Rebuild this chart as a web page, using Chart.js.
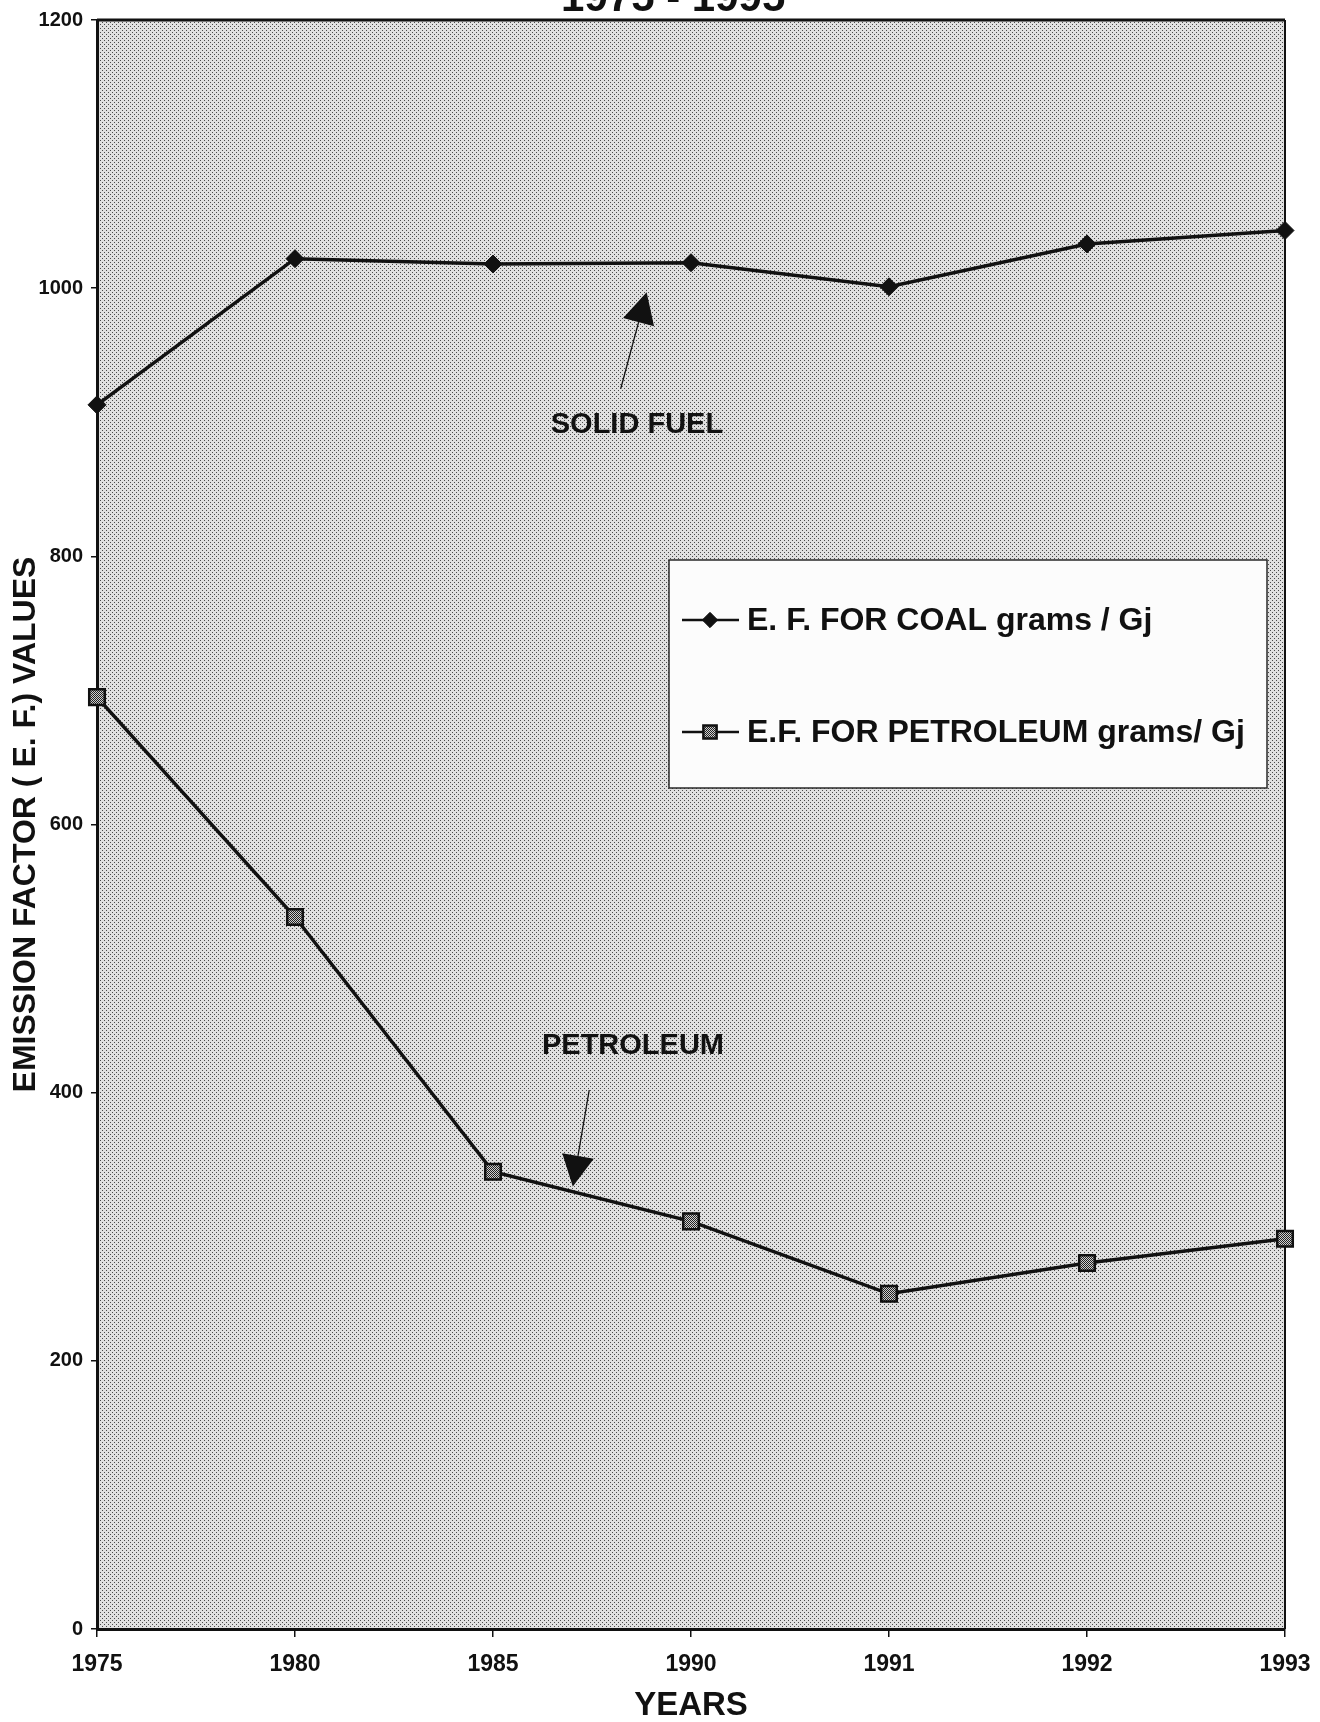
<!DOCTYPE html>
<html>
<head>
<meta charset="utf-8">
<title>Emission factor values 1975 - 1995</title>
<script src="https://cdn.jsdelivr.net/npm/chart.js@4.4.1/dist/chart.umd.min.js"></script>
<style>
  html, body { margin: 0; padding: 0; background: #ffffff; }
  canvas { display: block; }
</style>
</head>
<body>
<canvas id="efChart" width="1320" height="1722"></canvas>
<script>
// ---- data -------------------------------------------------------------
const years = ['1975', '1980', '1985', '1990', '1991', '1992', '1993'];
const coalEF = [913, 1022, 1018, 1019, 1001, 1033, 1043];
const petroleumEF = [695, 531, 341, 304, 250, 273, 291];
const yTickValues = [0, 200, 400, 600, 800, 1000, 1200];
const seriesNames = ['E. F. FOR COAL grams / Gj', 'E.F. FOR PETROLEUM grams/ Gj'];
const periodTitle = '1975 - 1995';
const xAxisTitle = 'YEARS';
const yAxisTitle = 'EMISSION FACTOR ( E. F.) VALUES';

// callout labels with arrows, given in axis units (category index, value)
const callouts = [
  { text: 'SOLID FUEL', label: [2.727, 898], tail: [2.645, 925], tip: [2.776, 997] },
  { text: 'PETROLEUM',  label: [2.707, 435], tail: [2.486, 402], tip: [2.403, 330] }
];

// ---- styling helpers -------------------------------------------------
const SANS = "'Liberation Sans', Arial, sans-serif";
const NARROW = "'Liberation Sans Narrow', 'Liberation Sans', Arial, sans-serif";
const INK = '#111111';

function makePattern(size, bg, fg, dots) {
  const c = document.createElement('canvas');
  c.width = size; c.height = size;
  const g = c.getContext('2d');
  g.fillStyle = bg; g.fillRect(0, 0, size, size);
  g.fillStyle = fg;
  dots.forEach(([x, y]) => g.fillRect(x, y, 1, 1));
  return g.createPattern(c, 'repeat');
}
// dotted screen for the plot area
const screenFill = makePattern(4, '#e0e0e0', '#4a4a4a', [[0, 0], [2, 2]]);
// checkered fill for the square markers
const checkerFill = makePattern(2, '#cfcfcf', '#222222', [[0, 0], [1, 1]]);

// ---- plugins ---------------------------------------------------------
const plotBackground = {
  id: 'plotBackground',
  beforeDraw(chart) {
    const { ctx, chartArea: a } = chart;
    ctx.save();
    ctx.fillStyle = '#ffffff';
    ctx.fillRect(0, 0, chart.width, chart.height);
    ctx.fillStyle = screenFill;
    ctx.fillRect(a.left, a.top, a.right - a.left, a.bottom - a.top);
    ctx.restore();
  },
  beforeDatasetsDraw(chart) {
    const { ctx, chartArea: a } = chart;
    ctx.save();
    ctx.strokeStyle = INK;
    ctx.lineWidth = 3;
    ctx.beginPath();
    ctx.moveTo(a.left, a.top);
    ctx.lineTo(a.right, a.top);
    ctx.stroke();
    ctx.lineWidth = 2;
    ctx.beginPath();
    ctx.moveTo(a.right, a.top);
    ctx.lineTo(a.right, a.bottom);
    ctx.stroke();
    ctx.restore();
  }
};

const calloutArrows = {
  id: 'calloutArrows',
  afterDatasetsDraw(chart) {
    const { ctx, scales: { x, y } } = chart;
    const px = p => [x.getPixelForValue(p[0]), y.getPixelForValue(p[1])];
    ctx.save();
    callouts.forEach(c => {
      const [tx, ty] = px(c.tail);
      const [hx, hy] = px(c.tip);
      const len = Math.hypot(hx - tx, hy - ty);
      const ux = (hx - tx) / len, uy = (hy - ty) / len;
      const headLen = 31, headHalf = 16;
      const bx = hx - ux * headLen, by = hy - uy * headLen;
      ctx.strokeStyle = INK;
      ctx.lineWidth = 1.3;
      ctx.beginPath();
      ctx.moveTo(tx, ty);
      ctx.lineTo(bx, by);
      ctx.stroke();
      ctx.fillStyle = INK;
      ctx.beginPath();
      ctx.moveTo(hx, hy);
      ctx.lineTo(bx - uy * headHalf, by + ux * headHalf);
      ctx.lineTo(bx + uy * headHalf, by - ux * headHalf);
      ctx.closePath();
      ctx.fill();
      const [lx, ly] = px(c.label);
      ctx.font = 'bold 29px ' + SANS;
      ctx.textAlign = 'center';
      ctx.textBaseline = 'middle';
      ctx.fillText(c.text, lx, ly);
    });
    ctx.restore();
  }
};

const boxedLegend = {
  id: 'boxedLegend',
  afterDatasetsDraw(chart) {
    const { ctx } = chart;
    const box = { x: 669, y: 560, w: 598, h: 228 };
    const rows = [620, 732];
    ctx.save();
    ctx.fillStyle = '#fcfcfc';
    ctx.fillRect(box.x, box.y, box.w, box.h);
    ctx.strokeStyle = '#2a2a2a';
    ctx.lineWidth = 1.5;
    ctx.strokeRect(box.x, box.y, box.w, box.h);
    chart.data.datasets.forEach((ds, i) => {
      const yy = rows[i];
      ctx.strokeStyle = ds.borderColor;
      ctx.lineWidth = 2.5;
      ctx.beginPath();
      ctx.moveTo(682, yy);
      ctx.lineTo(739, yy);
      ctx.stroke();
      ctx.fillStyle = ds.pointBackgroundColor;
      ctx.strokeStyle = ds.pointBorderColor;
      ctx.lineWidth = ds.pointBorderWidth;
      Chart.helpers.drawPoint(ctx, {
        pointStyle: ds.pointStyle,
        radius: ds.pointRadius * 0.85,
        rotation: 0,
        borderWidth: ds.pointBorderWidth
      }, 710, yy);
      ctx.fillStyle = INK;
      ctx.font = 'bold 32px ' + SANS;
      ctx.textAlign = 'left';
      ctx.textBaseline = 'middle';
      ctx.fillText(ds.label, 747, yy + 1);
    });
    ctx.restore();
  }
};

const periodHeading = {
  id: 'periodHeading',
  afterDraw(chart) {
    const { ctx, chartArea: a } = chart;
    ctx.save();
    ctx.fillStyle = INK;
    ctx.font = 'bold 42px ' + SANS;
    ctx.textAlign = 'center';
    ctx.textBaseline = 'alphabetic';
    ctx.fillText(periodTitle, a.left + (a.right - a.left) * 0.485, 11);
    ctx.restore();
  }
};

// ---- chart -----------------------------------------------------------
new Chart(document.getElementById('efChart'), {
  type: 'line',
  data: {
    labels: years,
    datasets: [
      {
        label: seriesNames[0],
        data: coalEF,
        borderColor: INK,
        borderWidth: 3.5,
        tension: 0,
        fill: false,
        pointStyle: 'rectRot',
        pointRadius: 9,
        pointBackgroundColor: INK,
        pointBorderColor: INK,
        pointBorderWidth: 1,
        clip: false
      },
      {
        label: seriesNames[1],
        data: petroleumEF,
        borderColor: INK,
        borderWidth: 3.5,
        tension: 0,
        fill: false,
        pointStyle: 'rect',
        pointRadius: 11,
        pointBackgroundColor: checkerFill,
        pointBorderColor: INK,
        pointBorderWidth: 2.5,
        clip: false
      }
    ]
  },
  options: {
    responsive: false,
    animation: false,
    events: [],
    layout: { padding: { top: 15, right: 35, left: 0, bottom: 0 } },
    plugins: {
      legend: { display: false },
      tooltip: { enabled: false },
      title: { display: false }
    },
    scales: {
      x: {
        type: 'category',
        offset: false,
        grid: { display: true, drawOnChartArea: false, drawTicks: true, tickLength: 8, color: INK, lineWidth: 1.5 },
        border: { display: true, color: INK, width: 3 },
        ticks: {
          color: INK,
          font: { family: NARROW, size: 23, weight: 'bold' },
          padding: 14,
          maxRotation: 0,
          autoSkip: false
        },
        title: {
          display: true,
          text: xAxisTitle,
          color: INK,
          font: { family: SANS, size: 33, weight: 'bold', lineHeight: 1 },
          padding: { top: 0, bottom: 0 }
        },
        afterFit(scale) {
          scale.height = 93;
          // end labels fit inside the outer margins already
          scale.paddingLeft = 0;
          scale.paddingRight = 0;
        }
      },
      y: {
        min: 0,
        max: 1200,
        afterBuildTicks(scale) { scale.ticks = yTickValues.map(v => ({ value: v })); },
        grid: { display: true, drawOnChartArea: false, drawTicks: true, tickLength: 6, color: INK, lineWidth: 1.5 },
        border: { display: true, color: INK, width: 3 },
        ticks: {
          color: INK,
          font: { family: SANS, size: 20, weight: 'bold' },
          padding: 8,
          callback: v => String(v)
        },
        title: {
          display: true,
          text: yAxisTitle,
          color: INK,
          font: { family: SANS, size: 32, weight: 'bold', lineHeight: 1.2 },
          padding: { top: 7, bottom: 0 }
        },
        afterFit(scale) { scale.width = 97; }
      }
    }
  },
  plugins: [plotBackground, calloutArrows, boxedLegend, periodHeading]
});
</script>
</body>
</html>
